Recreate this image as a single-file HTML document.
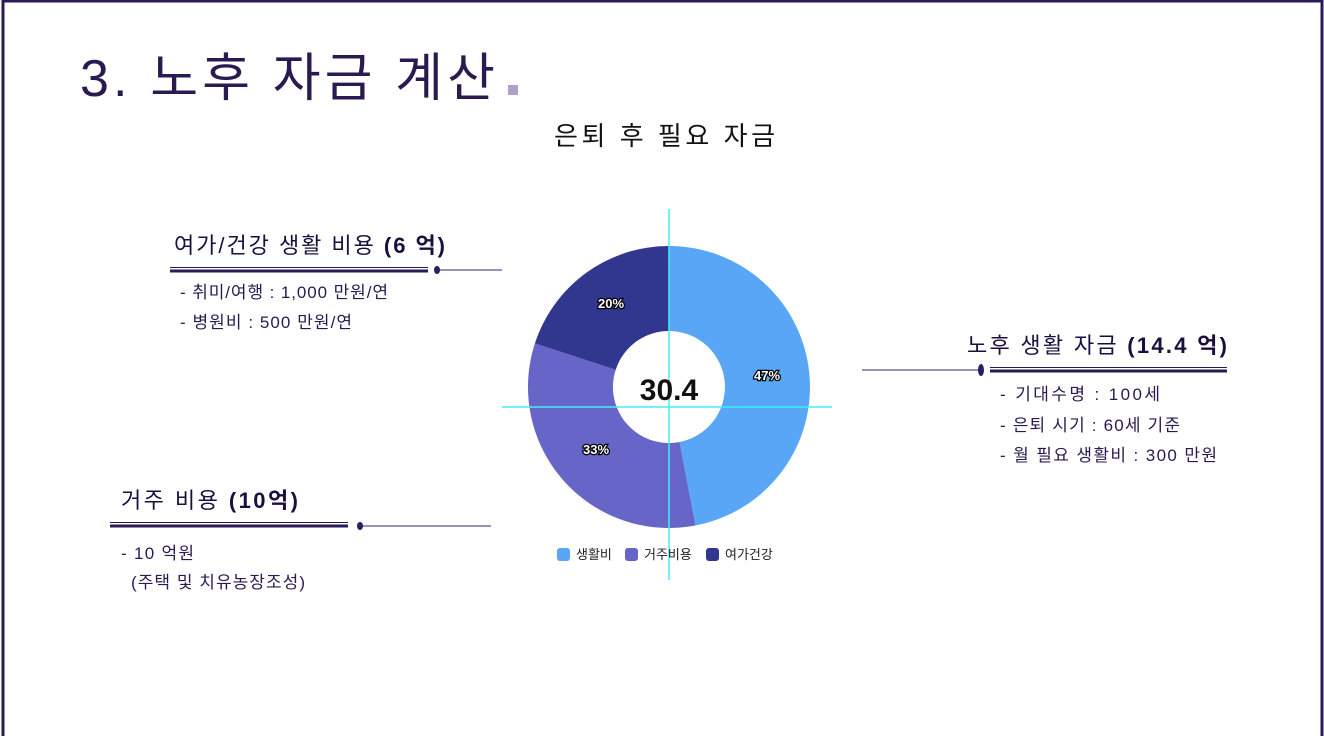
<!DOCTYPE html>
<html><head><meta charset="utf-8"><style>
html,body{margin:0;padding:0;background:#fff;}
body{width:1324px;height:736px;overflow:hidden;position:relative;font-family:"Liberation Sans","Noto Sans CJK KR",sans-serif;}
svg{position:absolute;left:0;top:0}
text{font-family:"Liberation Sans","Noto Sans CJK KR",sans-serif;}
</style></head><body>
<svg width="1324" height="736" viewBox="0 0 1324 736">
<rect x="3" y="1" width="1319" height="740" fill="none" stroke="#2a1a55" stroke-width="3"/>
<text x="80" y="96" font-size="52" fill="#2a1a50" textLength="415" lengthAdjust="spacing">3. 노후 자금 계산</text>
<rect x="508" y="85" width="10" height="10" fill="#b0a0c8"/>
<text x="554" y="145" font-size="26" fill="#111" textLength="221" lengthAdjust="spacing">은퇴 후 필요 자금</text>

<path d="M669 246 A141 141 0 0 1 695.4 525.5 L679.5 442 A56 56 0 0 0 669 331 Z" fill="#58a6f5"/>
<path d="M695.4 525.5 A141 141 0 0 1 534.9 343.4 L615.7 369.7 A56 56 0 0 0 679.5 442 Z" fill="#6865c8"/>
<path d="M534.9 343.4 A141 141 0 0 1 669 246 L669 331 A56 56 0 0 0 615.7 369.7 Z" fill="#31378f"/>
<line x1="669" y1="209" x2="669" y2="580" stroke="#40f0f8" stroke-width="1.5"/>
<line x1="502" y1="407" x2="832" y2="407" stroke="#40f0f8" stroke-width="1.5"/>
<text x="669" y="400" font-size="30" font-weight="bold" fill="#111" text-anchor="middle">30.4</text>
<g font-size="13" font-weight="bold" fill="#fff" stroke="#000" stroke-width="2.5" paint-order="stroke" text-anchor="middle">
<text x="767" y="380">47%</text><text x="596" y="454">33%</text><text x="611" y="308">20%</text></g>
<g font-size="13" fill="#222">
<rect x="557" y="548" width="13" height="13" rx="3" fill="#58a6f5"/><text x="576" y="559">생활비</text>
<rect x="625" y="548" width="13" height="13" rx="3" fill="#6865c8"/><text x="644" y="559">거주비용</text>
<rect x="706" y="548" width="13" height="13" rx="3" fill="#31378f"/><text x="725" y="559">여가건강</text></g>

<text x="174" y="253" font-size="22" fill="#1a1040" textLength="271" lengthAdjust="spacing">여가/건강 생활 비용 <tspan font-weight="bold">(6 억)</tspan></text>
<line x1="170" y1="267.5" x2="428" y2="267.5" stroke="#2a1a55" stroke-width="1"/>
<line x1="170" y1="271" x2="428" y2="271" stroke="#2a1a55" stroke-width="3"/>
<line x1="437" y1="270" x2="502" y2="270" stroke="#9a90b8" stroke-width="2"/>
<ellipse cx="437" cy="270" rx="3" ry="4" fill="#2a2060"/>
<text x="180" y="298" font-size="17" fill="#2a1a50" textLength="208" lengthAdjust="spacing">- 취미/여행 : 1,000 만원/연</text>
<text x="180" y="328" font-size="17" fill="#2a1a50" textLength="172" lengthAdjust="spacing">- 병원비 : 500 만원/연</text>

<text x="121" y="508" font-size="22" fill="#1a1040" textLength="177" lengthAdjust="spacing">거주 비용 <tspan font-weight="bold">(10억)</tspan></text>
<line x1="110" y1="522.5" x2="348" y2="522.5" stroke="#2a1a55" stroke-width="1"/>
<line x1="110" y1="526" x2="348" y2="526" stroke="#2a1a55" stroke-width="3"/>
<line x1="360" y1="526" x2="491" y2="526" stroke="#9a90b8" stroke-width="2"/>
<ellipse cx="360" cy="526" rx="3" ry="4" fill="#2a2060"/>
<text x="121" y="559" font-size="17" fill="#2a1a50" textLength="73" lengthAdjust="spacing">- 10 억원</text>
<text x="131" y="588" font-size="17" fill="#2a1a50" textLength="174" lengthAdjust="spacing">(주택 및 치유농장조성)</text>

<text x="967" y="353" font-size="22" fill="#1a1040" textLength="260" lengthAdjust="spacing">노후 생활 자금 <tspan font-weight="bold">(14.4 억)</tspan></text>
<line x1="862" y1="370" x2="980" y2="370" stroke="#9a90b8" stroke-width="2"/>
<ellipse cx="981" cy="370" rx="3" ry="6" fill="#2a2060"/>
<line x1="990" y1="367.5" x2="1227" y2="367.5" stroke="#2a1a55" stroke-width="1"/>
<line x1="990" y1="371" x2="1227" y2="371" stroke="#2a1a55" stroke-width="3"/>
<text x="1000" y="400" font-size="17" fill="#2a1a50" textLength="160" lengthAdjust="spacing">- 기대수명 : 100세</text>
<text x="1000" y="431" font-size="17" fill="#2a1a50" textLength="180" lengthAdjust="spacing">- 은퇴 시기 : 60세 기준</text>
<text x="1000" y="461" font-size="17" fill="#2a1a50" textLength="217" lengthAdjust="spacing">-  월 필요 생활비 : 300 만원</text>
</svg>
</body></html>
